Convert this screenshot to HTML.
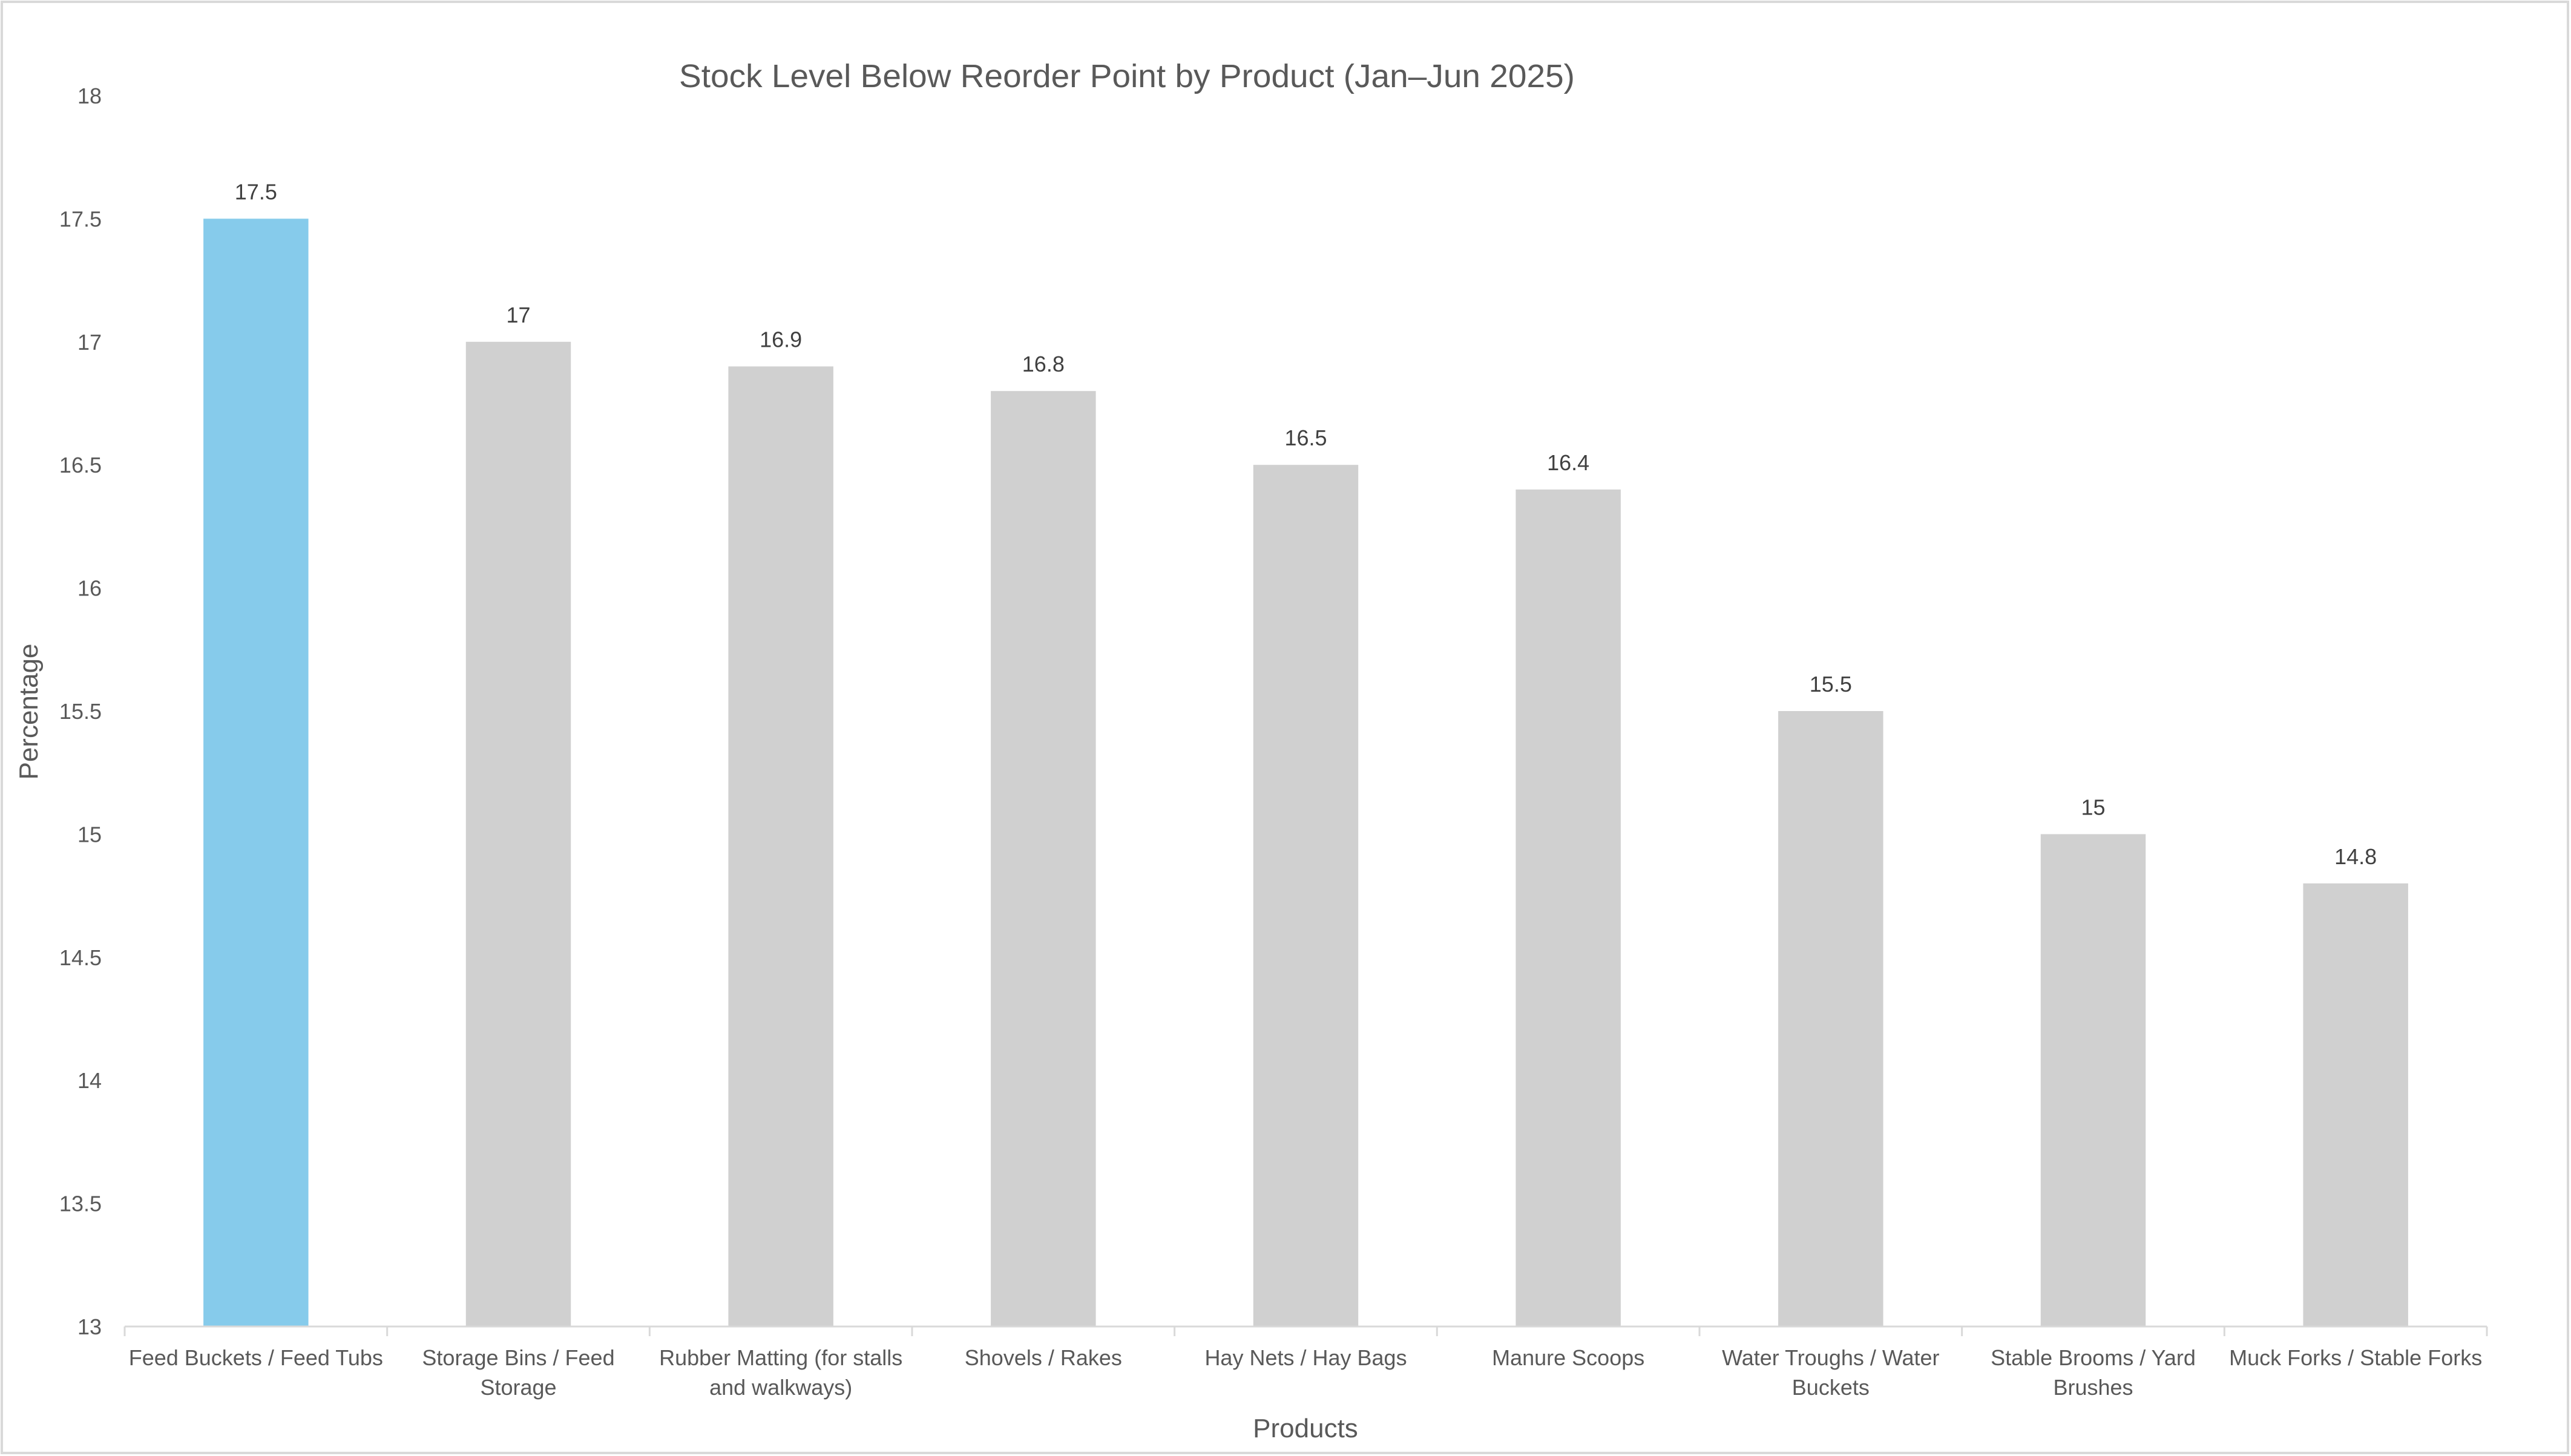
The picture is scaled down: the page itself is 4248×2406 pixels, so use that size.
<!DOCTYPE html>
<html><head><meta charset="utf-8"><style>
html,body{margin:0;padding:0;background:#fff}
svg{display:block}
text{font-family:"Liberation Sans",sans-serif;fill:#595959}
</style></head><body>
<svg id="chart" width="4248" height="2406" xmlns="http://www.w3.org/2000/svg">
<rect x="3" y="3" width="4240" height="2398" fill="#fff" stroke="#d9d9d9" stroke-width="4"/>
<text x="1862" y="144" font-size="54" text-anchor="middle" textLength="1480" lengthAdjust="spacingAndGlyphs">Stock Level Below Reorder Point by Product (Jan–Jun 2025)</text>
<text transform="translate(62,1176) rotate(-90)" font-size="44" text-anchor="middle">Percentage</text>
<text x="2157" y="2375" font-size="44" text-anchor="middle">Products</text>
<g id="yticks"></g><g id="bars"></g><g id="xaxis"></g>
</svg>
<script>
const categories=[["Feed Buckets / Feed Tubs"],["Storage Bins / Feed","Storage"],["Rubber Matting (for stalls","and walkways)"],["Shovels / Rakes"],["Hay Nets / Hay Bags"],["Manure Scoops"],["Water Troughs / Water","Buckets"],["Stable Brooms / Yard","Brushes"],["Muck Forks / Stable Forks"]];
const values=[17.5,17,16.9,16.8,16.5,16.4,15.5,15,14.8];
const yTicks=[13,13.5,14,14.5,15,15.5,16,16.5,17,17.5,18];
const NS="http://www.w3.org/2000/svg";
const x0=206,x1=4109,yBase=2192,yTop=158,yMin=13,yMax=18;
const band=(x1-x0)/categories.length;
function y(v){return yBase-(v-yMin)/(yMax-yMin)*(yBase-yTop);}
function xc(i){return x0+band*(i+0.5);}
function mk(tag,attrs,parent){const e=document.createElementNS(NS,tag);for(const k in attrs)e.setAttribute(k,attrs[k]);parent.appendChild(e);return e;}
const yt=document.getElementById('yticks'),bg=document.getElementById('bars'),xa=document.getElementById('xaxis');
yTicks.forEach(t=>{const e=mk('text',{x:168,y:y(t)+13,'font-size':36,'text-anchor':'end'},yt);


e.textContent=t;});
values.forEach((v,i)=>{const w=band*0.4;
const r=mk('rect',{x:xc(i)-w/2,y:y(v),width:w,height:yBase-y(v),fill:i===0?'#86cbeb':'#d0d0d0'},bg);


const l=mk('text',{x:xc(i),y:y(v)-32,'font-size':36,'text-anchor':'middle',style:'fill:#404040'},bg);


l.textContent=v;});
const ax=mk('line',{x1:x0,x2:x1,y1:yBase,y2:yBase,stroke:'#d9d9d9','stroke-width':3},xa);


for(let i=0;i<=categories.length;i++){const tk=mk('line',{x1:x0+band*i,x2:x0+band*i,y1:yBase,y2:yBase+16,stroke:'#d9d9d9','stroke-width':3},xa);

}
categories.forEach((c,i)=>{c.forEach((ln,j)=>{const t=mk('text',{x:xc(i),y:2256+j*49,'font-size':36,'text-anchor':'middle'},xa);


t.textContent=ln;});});
</script>
</body></html>
